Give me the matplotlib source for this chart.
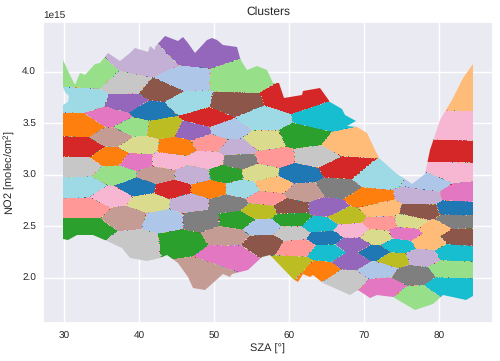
import numpy as np
import matplotlib
matplotlib.use("Agg")
import matplotlib.pyplot as plt
import seaborn as sns
from matplotlib.colors import ListedColormap, BoundaryNorm
from matplotlib.patches import PathPatch
from matplotlib.path import Path

# cluster centres: SZA [deg], NO2 [1e15 molec/cm2], tab20 colour index
center_sza = [33.47,41.03,47.69,45.87,53.03,38.36,42.8,32.8,38.53,46.53,52.53,60.53,36.2,41.47,43.2,49.2,56.4,32.8,39.2,47.2,
              51.87,56.53,36.53,32.36,40.13,45.03,49.47,53.03,36.36,43.87,49.03,39.69,53.47,58.0,32.13,36.93,42.36,47.2,51.6,56.0,
              32.53,39.83,44.53,49.33,53.83,57.87,36.36,41.33,46.8,51.87,56.93,33.03,38.27,43.33,48.36,53.03,56.13,56.53,33.03,39.69,
              45.69,51.69,56.93,51.69,48.13,64.36,61.69,67.87,63.47,67.03,61.2,71.69,62.0,66.36,70.53,77.6,78.8,82.8,82.13,82.8,
              81.69,81.47,82.36,77.47,72.13,60.13,65.03,82.13,76.13,72.36,60.36,67.73,64.13,79.47,78.53,68.36,75.47,82.53,60.36,71.69,
              64.8,74.53,68.53,68.53,61.03,65.2,71.47,81.87,77.73,73.87,81.47,60.53,64.0,71.87,76.49,81.2,67.69,72.53,77.2]
center_no2 = [3.95,4.08,4.18,3.92,3.92,3.87,3.81,3.73,3.70,3.70,3.68,3.73,3.55,3.62,3.45,3.55,3.53,3.47,3.46,3.42,
              3.43,3.33,3.37,3.26,3.28,3.27,3.31,3.26,3.17,3.13,3.14,3.13,3.13,3.16,3.08,3.00,3.00,3.00,3.01,3.02,
              2.88,2.88,2.86,2.86,2.86,2.90,2.79,2.73,2.73,2.72,2.77,2.68,2.59,2.56,2.56,2.56,2.65,2.49,2.48,2.34,
              2.35,2.41,2.34,2.22,2.06,3.55,3.37,3.29,3.17,3.06,3.01,2.97,2.83,2.87,2.77,2.79,2.92,2.82,3.45,3.79,
              3.22,3.02,2.67,2.64,2.66,2.68,2.68,2.55,2.54,2.53,2.57,2.59,2.51,2.48,2.35,2.46,2.43,2.40,2.43,2.40,
              2.39,2.31,2.32,2.17,2.30,2.25,2.24,2.24,2.20,2.18,2.09,2.12,2.07,2.08,2.03,1.91,1.98,1.91,1.82]
center_colour = [5,9,8,1,5,15,10,19,8,19,10,6,12,0,16,6,19,2,5,8,
                 1,17,11,6,17,2,7,9,2,13,13,12,14,7,15,5,11,9,4,17,
                 19,0,6,2,19,3,13,17,9,14,7,7,11,1,14,4,16,1,4,15,
                 4,11,10,12,11,18,4,3,15,6,0,19,11,14,2,9,1,12,13,3,
                 6,13,0,10,3,10,8,14,17,7,4,16,18,3,3,13,12,10,15,17,
                 0,18,8,8,7,18,0,18,9,16,5,16,2,1,14,18,15,12,5]

# outline of the data cloud, clockwise from the top left
outline_sza = [29.83,30.8,31.47,32.13,32.8,34.13,34.8,35.91,37.47,38.8,39.47,41.24,41.47,42.13,42.13,43.47,45.24,45.91,46.57,47.47,
               49.03,49.69,50.36,51.24,53.03,53.47,53.69,54.36,55.69,57.03,57.91,58.71,59.33,61.69,61.87,64.13,65.47,67.03,67.47,68.93,
               67.69,69.03,70.36,71.47,72.04,74.36,75.47,76.36,78.13,78.8,80.13,81.69,83.24,84.57,
               84.57,83.6,82.36,80.57,79.24,76.8,73.91,71.69,70.8,69.24,68.13,64.57,63.24,62.8,61.91,61.24,60.57,57.47,56.36,54.57,
               52.36,52.13,51.24,49.91,48.8,47.24,46.57,45.24,43.69,42.8,41.03,38.8,37.69,35.69,33.91,31.69,30.57,29.83,
               29.83,29.87,30.53,30.67,30.13,29.83]
outline_no2 = [4.11,3.97,3.87,3.99,3.97,4.07,4.08,4.18,4.10,4.18,4.23,4.19,4.25,4.21,4.24,4.35,4.30,4.34,4.28,4.18,
               4.31,4.33,4.31,4.26,4.24,4.13,4.09,4.02,4.06,4.02,3.89,3.89,3.74,3.77,3.81,3.84,3.71,3.64,3.58,3.52,
               3.47,3.46,3.40,3.24,3.16,3.01,2.96,2.91,3.01,3.24,3.53,3.73,3.94,4.07,
               1.82,1.78,1.80,1.83,1.74,1.69,1.81,1.83,1.80,1.88,1.83,1.95,2.03,2.01,2.04,1.96,1.99,2.22,2.20,2.07,
               2.04,2.01,2.04,1.95,1.88,1.90,2.01,2.14,2.22,2.19,2.16,2.19,2.29,2.36,2.41,2.41,2.37,2.38,
               3.63,3.68,3.71,3.76,3.80,3.85]

x_ticks = [30, 40, 50, 60, 70, 80]
y_ticks = [2.0, 2.5, 3.0, 3.5, 4.0]

sns.set_theme(style="darkgrid")
plt.rcParams['font.family'] = ['Liberation Sans', 'DejaVu Sans']
plt.rcParams['mathtext.default'] = 'regular'
plt.rcParams['text.hinting'] = 'no_hinting'
plt.rcParams['text.hinting_factor'] = 1

fig = plt.figure(figsize=(5.0, 3.61), dpi=100)
ax = fig.add_axes([43/500, 1-323/361, 450/500, 301/361])

SCALE = 1e15
cx = np.array(center_sza)
cy = np.array(center_no2)
xlim = (27.2, 87.2)
ylim = (1.56, 4.4825)
gx = np.linspace(xlim[0], xlim[1], 1200)
gy = np.linspace(ylim[0], ylim[1], 1204)
XX, YY = np.meshgrid(gx, gy)
best = np.full(XX.shape, np.inf, dtype=float)
second = np.full(XX.shape, np.inf, dtype=float)
owner = np.zeros(XX.shape, dtype=int)
other = np.zeros(XX.shape, dtype=int)
# clusters were formed on standardised axes, so SZA counts for less per pixel than NO2
for i in range(len(cx)):
    d = ((XX - cx[i]) * 3.5) ** 2 + ((YY - cy[i]) * 103) ** 2
    closer = d < best
    middle = (~closer) & (d < second)
    second[closer] = best[closer]
    other[closer] = owner[closer]
    best[closer] = d[closer]
    owner[closer] = center_colour[i]
    second[middle] = d[middle]
    other[middle] = center_colour[i]

# the seam between two clusters shows sparse specks of overlapping points
seam = (np.sqrt(second) - np.sqrt(best) < 0.6) & (owner != other)
rows, cols = np.indices(owner.shape)
sparse = ((cols // 3) + (rows // 3)) % 3 == 0
seam_colour = ((cols // 3) * 7 + (rows // 3) * 3) % 20
owner = np.where(seam & sparse, seam_colour, owner)

tab20 = ListedColormap(plt.get_cmap('tab20').colors)
mesh = ax.pcolormesh(gx, gy * SCALE, owner, cmap=tab20,
                     norm=BoundaryNorm(np.arange(-0.5, 20.5), 20),
                     shading='nearest', rasterized=True, zorder=2)
verts = np.column_stack([outline_sza, np.array(outline_no2) * SCALE])
clip = PathPatch(Path(np.vstack([verts, verts[0]]), closed=True), transform=ax.transData,
                 facecolor='none', edgecolor='none')
ax.add_patch(clip)
mesh.set_clip_path(clip)

ax.set_xlim(xlim)
ax.set_ylim(ylim[0] * SCALE, ylim[1] * SCALE)
ax.set_xticks(x_ticks)
ax.set_yticks([v * SCALE for v in y_ticks])
ax.tick_params(labelsize=7.5, colors='#262626', length=0)
ax.tick_params(axis='x', pad=6)
ax.tick_params(axis='y', pad=5)
ax.yaxis.get_offset_text().set_fontsize(7.5)
ax.set_title('Clusters', fontsize=8.5, color='#262626', pad=5)
ax.set_xlabel('SZA [°]', fontsize=8, color='#262626', labelpad=2)
ax.set_ylabel('NO2 [molec/cm$^2$]', fontsize=8, color='#262626', labelpad=3)
fig.savefig('out.png', dpi=100)
